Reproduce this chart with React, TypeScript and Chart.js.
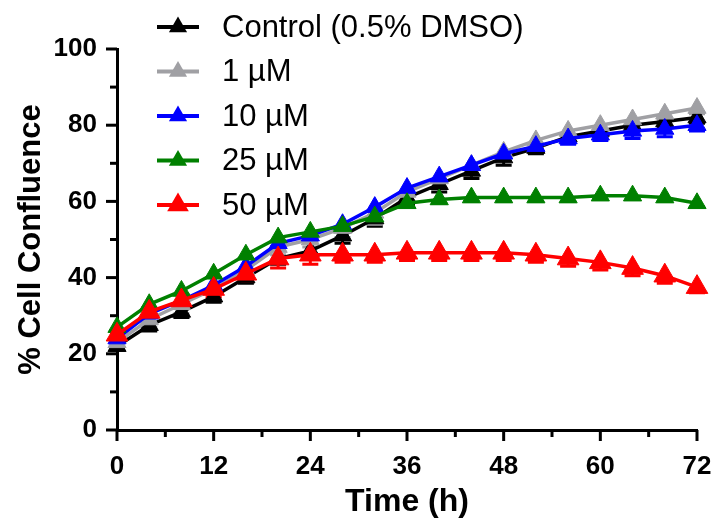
import React, { useEffect, useRef } from 'react';
import { Chart, registerables } from 'chart.js';

Chart.register(...registerables);

const timePoints = [0, 4, 8, 12, 16, 20, 24, 28, 32, 36, 40, 44, 48, 52, 56, 60, 64, 68, 72];

const seriesLabels = ['Control (0.5% DMSO)', '1 µM', '10 µM', '25 µM', '50 µM'];
const seriesColors = ['#000000', '#a0a0a4', '#0000ff', '#008000', '#ff0000'];

const controlValues = [22, 27.5, 31, 35, 40, 45, 47, 51, 55.5, 61, 64.5, 68, 71.5, 74, 77, 78.5, 80, 81, 82];
const oneMicroValues = [23, 29, 33, 37, 42, 48, 50, 53, 57, 62.5, 66, 69.5, 73, 76, 78.5, 80, 81.5, 83, 84.5];
const tenMicroValues = [24, 30.5, 34, 38, 43, 49, 51, 54, 58.5, 63.5, 66.5, 69.5, 72.5, 74.5, 76.5, 77.5, 78.5, 79, 80];
const twentyFiveMicroValues = [27, 33, 36.5, 41, 46, 50.5, 52, 53.5, 56, 59.5, 60.5, 61, 61, 61, 61, 61.5, 61.5, 61, 59.5];
const fiftyMicroValues = [25, 31, 34, 37, 41, 45, 46, 46, 46, 46.5, 46.5, 46.5, 46.5, 46, 45, 44, 42.5, 40.5, 37.5];

const controlErrors = [1, 1.5, 1.5, 1.5, 1.5, 1.5, 1.5, 2, 2, 2, 2, 2, 2, 1.5, 1.5, 1.5, 1.5, 1.5, 1.5];
const oneMicroErrors = [1.5, 2, 2.5, 2.5, 2, 2, 2, 2.5, 3, 2.5, 2.5, 2.5, 2, 2, 1.5, 1.5, 1.5, 1.5, 1.5];
const tenMicroErrors = [1, 1, 1, 1, 1, 1, 1, 1, 1, 1, 1, 1, 1, 1, 1.5, 1.5, 2, 2, 1.5];
const twentyFiveMicroErrors = [1, 1, 1, 1, 1, 1, 1, 1, 1, 1, 1, 1, 1, 1, 1, 1, 1, 1, 1];
const fiftyMicroErrors = [1, 1.5, 2, 2, 2, 2.5, 2.5, 2, 2, 2, 2, 2, 2, 2, 2, 2, 2, 2, 1.5];

const seriesValues = [controlValues, oneMicroValues, tenMicroValues, twentyFiveMicroValues, fiftyMicroValues];
const seriesErrors = [controlErrors, oneMicroErrors, tenMicroErrors, twentyFiveMicroErrors, fiftyMicroErrors];
const seriesOrder = [4, 3, 2, 1, 0];
const pointRadii = [10.5, 10.5, 10.5, 10.5, 12.5];

const yMinorStep = 10;
const xMinorStep = 6;

const FONT = "'Liberation Sans', Arial, sans-serif";

const decorPlugin = {
  id: 'decor',
  beforeDatasetsDraw(chart: any) {
    const ctx = chart.ctx;
    const ys = chart.scales.y;
    ctx.save();
    ctx.lineWidth = 3;
    chart.data.datasets.forEach((ds: any, i: number) => {
      const meta = chart.getDatasetMeta(i);
      const errs = seriesErrors[i];
      ctx.strokeStyle = seriesColors[i];
      meta.data.forEach((pt: any, j: number) => {
        const v = ds.data[j].y;
        const yLow = ys.getPixelForValue(v - errs[j]);
        const yC = ys.getPixelForValue(v);
        ctx.beginPath();
        ctx.moveTo(pt.x, yC);
        ctx.lineTo(pt.x, yLow);
        ctx.moveTo(pt.x - 8, yLow);
        ctx.lineTo(pt.x + 8, yLow);
        ctx.stroke();
      });
    });
    ctx.restore();
  },
  afterDraw(chart: any) {
    const ctx = chart.ctx;
    const xs = chart.scales.x;
    const ys = chart.scales.y;
    const area = chart.chartArea;
    ctx.save();
    ctx.strokeStyle = '#000';
    ctx.lineWidth = 3;
    ctx.lineCap = 'butt';
    for (let v = ys.min; v <= ys.max + 0.001; v += yMinorStep) {
      const y = ys.getPixelForValue(v);
      const len = v % 20 === 0 ? 11 : 7;
      ctx.beginPath();
      ctx.moveTo(area.left, y);
      ctx.lineTo(area.left - len, y);
      ctx.stroke();
    }
    for (let v = xs.min; v <= xs.max + 0.001; v += xMinorStep) {
      const x = xs.getPixelForValue(v);
      const len = v % 12 === 0 ? 11 : 7;
      ctx.beginPath();
      ctx.moveTo(x, area.bottom);
      ctx.lineTo(x, area.bottom + len);
      ctx.stroke();
    }
    // legend
    ctx.font = `31px ${FONT}`;
    ctx.textBaseline = 'middle';
    ctx.textAlign = 'left';
    seriesLabels.forEach((label, i) => {
      const y = 27 + 44.5 * i;
      ctx.strokeStyle = seriesColors[i];
      ctx.lineWidth = 4;
      ctx.beginPath();
      ctx.moveTo(157, y);
      ctx.lineTo(199, y);
      ctx.stroke();
      const r = pointRadii[i];
      ctx.fillStyle = seriesColors[i];
      ctx.beginPath();
      ctx.moveTo(178, y - r);
      ctx.lineTo(178 + r * Math.sqrt(3) / 2, y + r / 2);
      ctx.lineTo(178 - r * Math.sqrt(3) / 2, y + r / 2);
      ctx.closePath();
      ctx.fill();
      ctx.fillStyle = '#000';
      ctx.fillText(label, 222, y + 1);
    });
    ctx.restore();
  },
};

export default function App() {
  const canvasRef = useRef<HTMLCanvasElement | null>(null);

  useEffect(() => {
    if (!canvasRef.current) return;
    const datasets = seriesLabels.map((label, i) => ({
      label,
      data: timePoints.map((t, j) => ({ x: t, y: seriesValues[i][j] })),
      borderColor: seriesColors[i],
      backgroundColor: seriesColors[i],
      pointBackgroundColor: seriesColors[i],
      pointBorderColor: seriesColors[i],
      pointStyle: 'triangle',
      pointRadius: pointRadii[i],
      pointBorderWidth: 1,
      borderWidth: 3.5,
      tension: 0,
      clip: false,
      order: seriesOrder[i],
    }));
    const chart = new Chart(canvasRef.current, {
      type: 'line',
      data: { datasets },
      plugins: [decorPlugin],
      options: {
        animation: false,
        responsive: false,
        maintainAspectRatio: false,
        layout: { padding: { left: 0, top: 49, right: 16, bottom: 0 } },
        plugins: { legend: { display: false }, tooltip: { enabled: false } },
        scales: {
          x: {
            type: 'linear',
            min: 0,
            max: 72,
            grid: { display: false, drawTicks: false },
            border: { display: true, color: '#000', width: 3 },
            ticks: {
              stepSize: 12,
              padding: 21,
              color: '#000',
              font: { family: FONT, size: 26, weight: 'bold' },
              maxRotation: 0,
            },
            title: {
              display: true,
              text: 'Time (h)',
              color: '#000',
              font: { family: FONT, size: 32, weight: 'bold' },
              padding: { top: 5, bottom: 0 },
            },
            afterFit: (scale: any) => {
              scale.height = 91;
              scale.paddingLeft = 0;
              scale.paddingRight = 0;
            },
          },
          y: {
            type: 'linear',
            min: 0,
            max: 100,
            grid: { display: false, drawTicks: false },
            border: { display: true, color: '#000', width: 3 },
            ticks: {
              stepSize: 20,
              padding: 20,
              color: '#000',
              font: { family: FONT, size: 26, weight: 'bold' },
            },
            title: {
              display: true,
              text: '% Cell Confluence',
              color: '#000',
              font: { family: FONT, size: 31, weight: 'bold' },
              padding: { top: 13, bottom: 0 },
            },
            afterFit: (scale: any) => {
              scale.width = 117;
              scale.paddingTop = 0;
              scale.paddingBottom = 0;
            },
          },
        },
      },
    } as any);
    return () => chart.destroy();
  }, []);

  return (
    <div style={{ position: 'absolute', left: 0, top: 0, width: 713, height: 521, background: '#fff' }}>
      <canvas ref={canvasRef} width={713} height={521} style={{ width: 713, height: 521 }} />
    </div>
  );
}
